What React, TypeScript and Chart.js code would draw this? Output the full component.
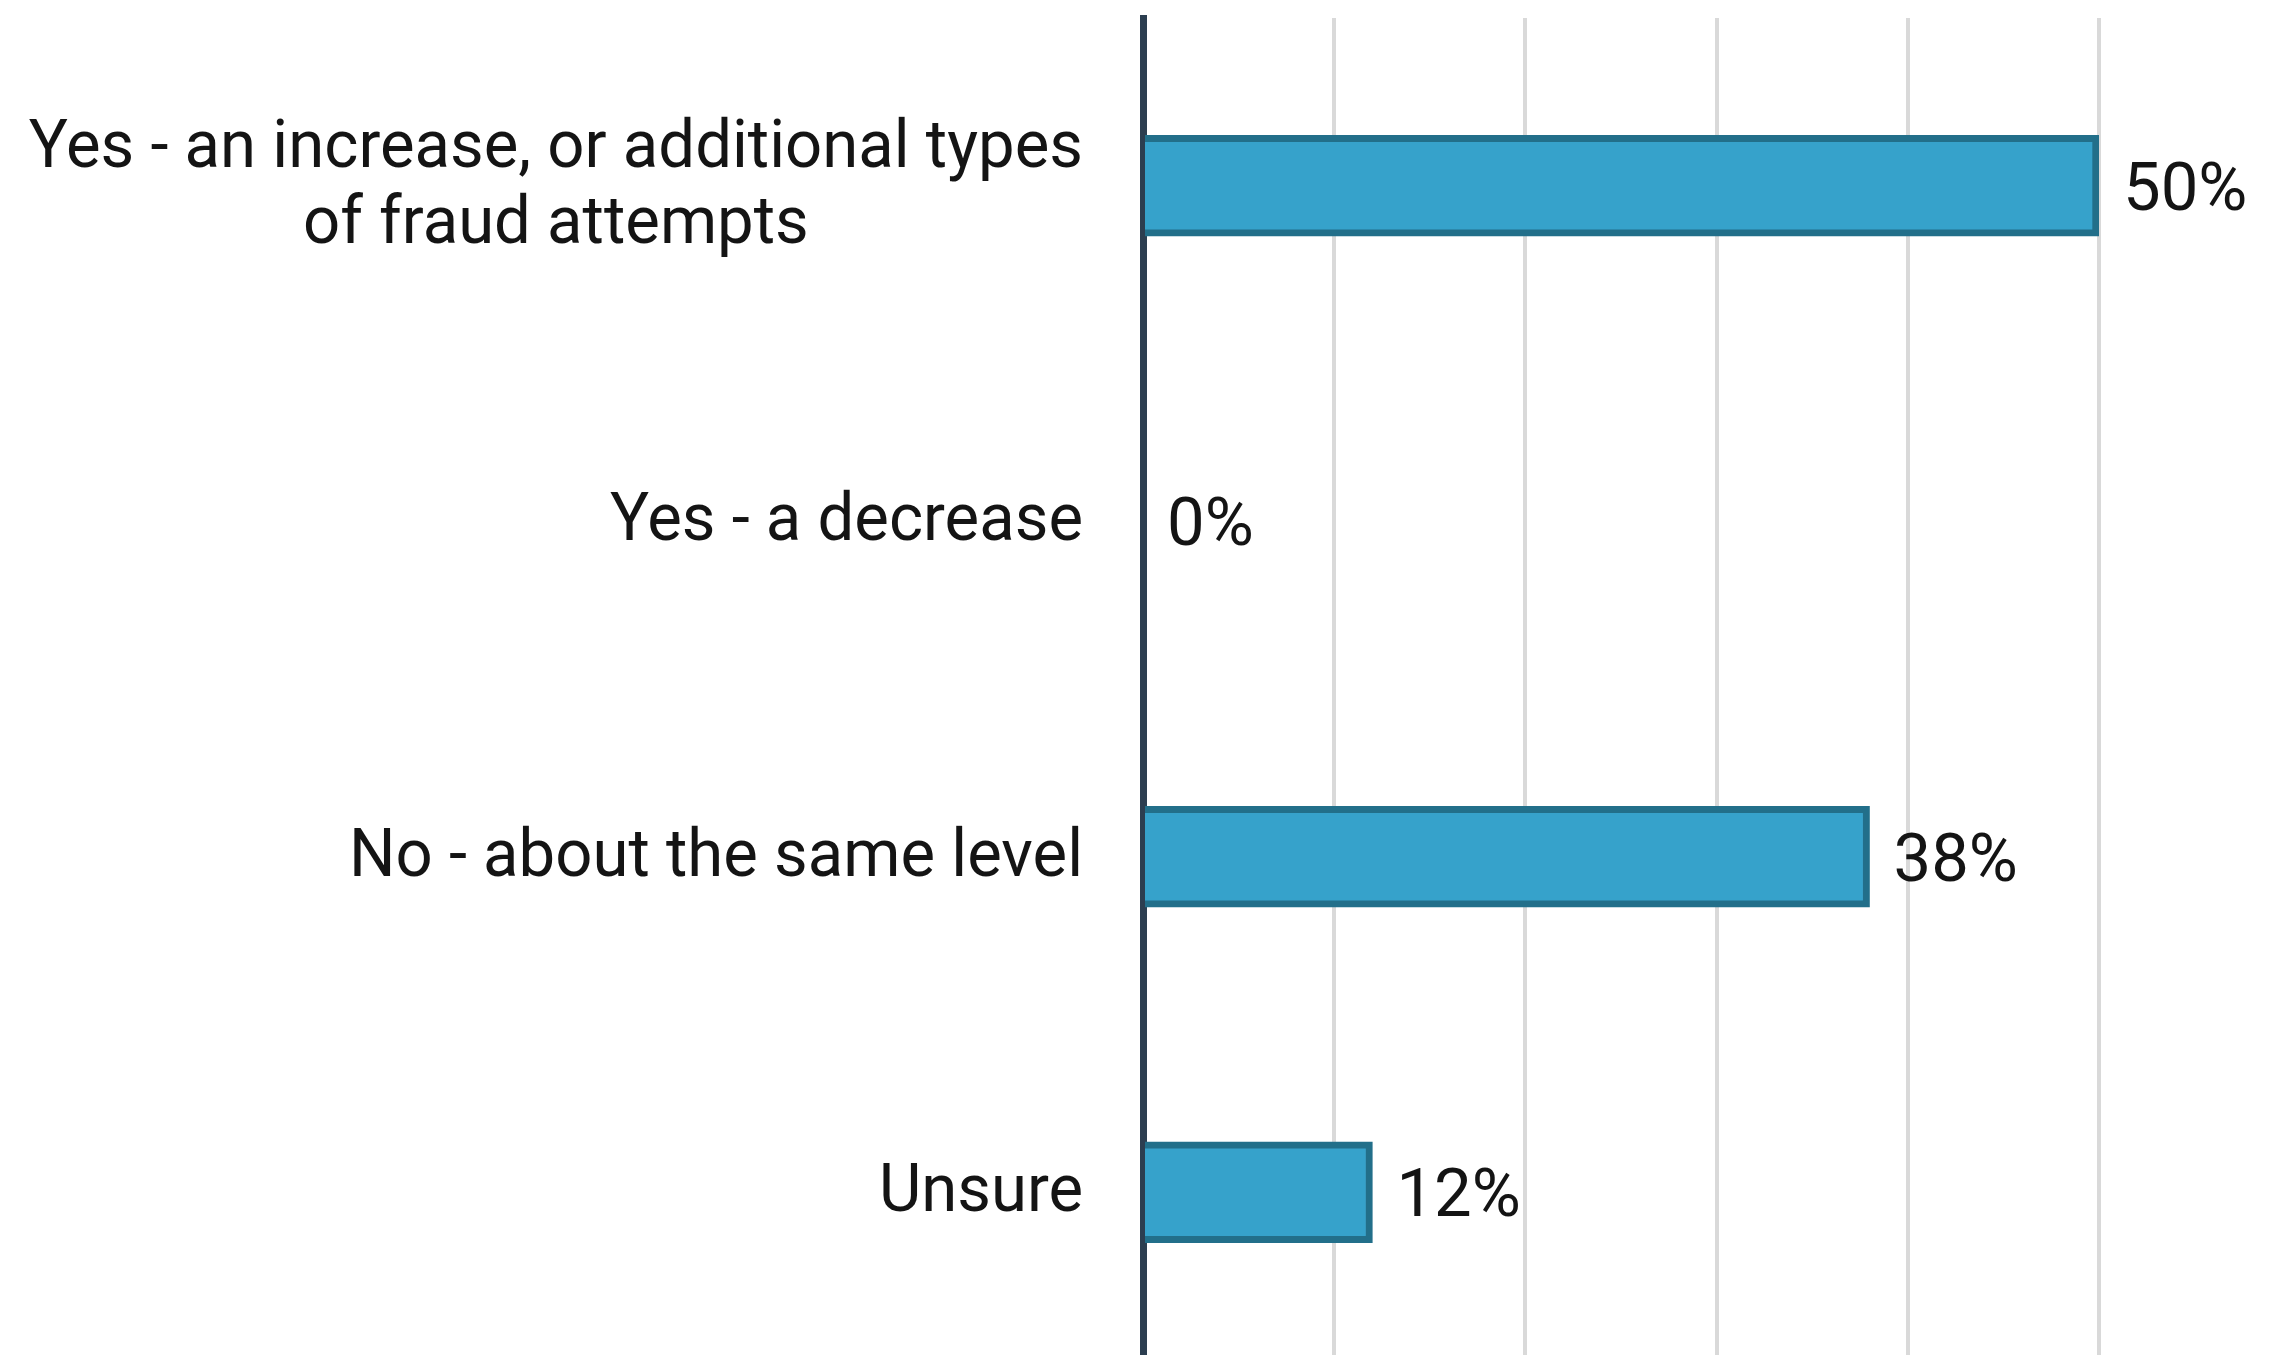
import React, { useEffect, useRef } from "react";
import { Chart, registerables } from "chart.js";

Chart.register(...registerables);

const categories: (string | string[])[] = [
  ["Yes - an increase, or additional types", "of fraud attempts"],
  "Yes - a decrease",
  "No - about the same level",
  "Unsure",
];
const percentages: number[] = [50, 0, 38, 12];
const xTicks: number[] = [0, 10, 20, 30, 40, 50];

const FONT = "67px Roboto";
const TEXT_COLOR = "#141414";
const BAR_FILL = "#36a2cb";
const BAR_BORDER = "#226f8a";
const AXIS_COLOR = "#2c3e50";
const GRID_COLOR = "#d9d9d9";
const LABEL_SQUEEZE = 0.974;

const labelPlugin = {
  id: "customLabels",
  afterDraw(chart: any) {
    const ctx: CanvasRenderingContext2D = chart.ctx;
    const xs = chart.scales.x;
    const ys = chart.scales.y;
    ctx.save();
    ctx.font = FONT;
    ctx.fillStyle = TEXT_COLOR;
    ctx.textBaseline = "alphabetic";
    const right = chart.chartArea.left - 60;
    const lineHeight = 75.6;
    categories.forEach((cat, i) => {
      const lines = Array.isArray(cat) ? cat : [cat];
      const widths = lines.map((l) => ctx.measureText(l).width * LABEL_SQUEEZE);
      const widest = Math.max(...widths);
      const cx = right - widest / 2;
      const yc = ys.getPixelForValue(i);
      const first = yc + 19 - ((lines.length - 1) * lineHeight) / 2;
      ctx.textAlign = "center";
      lines.forEach((l, j) => ctx.fillText(l, cx, first + j * lineHeight, widths[j]));
    });
    ctx.textAlign = "left";
    percentages.forEach((v, i) => {
      ctx.fillText(`${v}%`, xs.getPixelForValue(v) + 24, ys.getPixelForValue(i) + 24);
    });
    ctx.restore();
  },
};

export default function App() {
  const canvasRef = useRef<HTMLCanvasElement | null>(null);

  useEffect(() => {
    let chart: Chart | null = null;
    let cancelled = false;
    const build = () => {
      if (cancelled || !canvasRef.current) return;
      chart = new Chart(canvasRef.current, {
        type: "bar",
        data: {
          labels: categories as any,
          datasets: [
            {
              data: percentages,
              backgroundColor: BAR_FILL,
              borderColor: BAR_BORDER,
              borderWidth: 7,
              barThickness: 101,
            },
          ],
        },
        options: {
          indexAxis: "y",
          responsive: false,
          animation: false,
          devicePixelRatio: 1,
          layout: { padding: { top: 18, right: 187, bottom: 0, left: 0 } },
          plugins: { legend: { display: false }, tooltip: { enabled: false } },
          scales: {
            x: {
              min: 0,
              max: 50,
              afterBuildTicks: (s: any) => {
                s.ticks = xTicks.map((v) => ({ value: v }));
              },
              ticks: { display: false },
              grid: {
                color: (c: any) => (c.tick && c.tick.value === 0 ? "rgba(0,0,0,0)" : GRID_COLOR),
                lineWidth: 4,
                drawTicks: false,
              },
              border: { display: false },
              afterFit: (s: any) => {
                s.height = 0;
              },
            },
            y: {
              z: 1,
              ticks: { display: false },
              grid: { display: false, drawTicks: false },
              border: { display: true, color: AXIS_COLOR, width: 7 },
              afterFit: (s: any) => {
                s.width = 1143;
              },
            },
          },
        } as any,
        plugins: [labelPlugin],
      });
    };
    if ((document as any).fonts && (document as any).fonts.load) {
      (document as any).fonts.load(FONT).then(build, build);
    } else {
      build();
    }
    return () => {
      cancelled = true;
      if (chart) chart.destroy();
    };
  }, []);

  return (
    <div
      style={{
        position: "absolute",
        left: 0,
        top: 0,
        width: 2286,
        height: 1355,
        overflow: "hidden",
        background: "#ffffff",
      }}
    >
      <canvas
        ref={canvasRef}
        width={2286}
        height={1360}
        style={{ display: "block", width: 2286, height: 1360 }}
      />
    </div>
  );
}
